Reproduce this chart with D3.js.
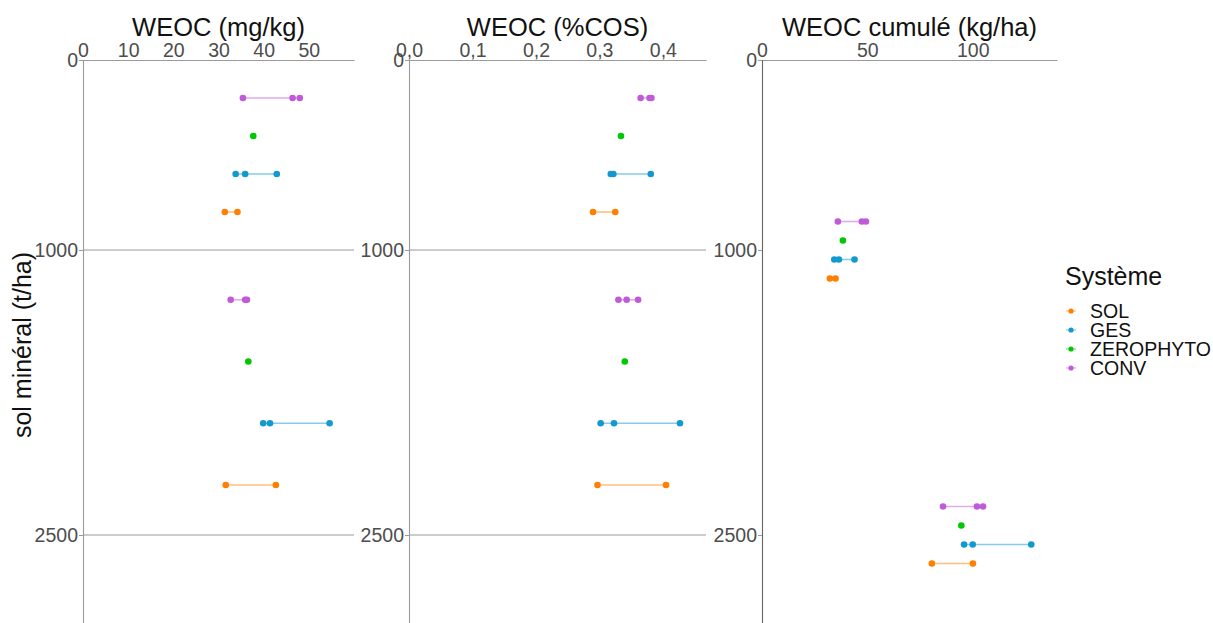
<!DOCTYPE html>
<html>
<head>
<meta charset="utf-8">
<script src="https://cdn.jsdelivr.net/npm/d3@7"></script>
<style>
  html, body { margin: 0; padding: 0; background: #fff; }
  svg { display: block; font-family: "Liberation Sans", Arial, sans-serif; }
</style>
</head>
<body>
<svg id="chart" width="1213" height="623"></svg>
<script>
// Systems (legend order) and colours
const systems = ["SOL", "GES", "ZEROPHYTO", "CONV"];
const colors = ["#ff7f00", "#1299cf", "#00c800", "#c05ad8"];

// Depth position (t/ha of mineral soil) of each system row, per layer
const depthLayer1 = [800, 600, 400, 200];         // SOL, GES, ZEROPHYTO, CONV
const depthLayer2 = [2237, 1912, 1587, 1262];
const depthCum1 = [1150, 1050, 950, 850];
const depthCum2 = [2650, 2550, 2450, 2350];

// WEOC (mg/kg), replicates per system
const weocMg1 = [[31.4, 34.2], [33.8, 35.9, 42.9], [37.7], [35.4, 46.4, 48.0]];
const weocMg2 = [[31.6, 42.7], [39.9, 41.4, 54.6], [36.6], [32.7, 35.9, 36.3]];

// WEOC (%COS)
const weocPct1 = [[0.290, 0.325], [0.318, 0.322, 0.381], [0.334], [0.365, 0.379, 0.382]];
const weocPct2 = [[0.297, 0.405], [0.302, 0.323, 0.427], [0.340], [0.330, 0.343, 0.361]];

// Cumulated WEOC (kg/ha)
const weocCum1 = [[32.2, 34.9], [34.3, 36.5, 43.9], [38.4], [36.0, 47.4, 49.3]];
const weocCum2 = [[80.6, 100.1], [95.9, 100.0, 127.8], [94.6], [85.9, 102.0, 104.9]];

// Axis ticks
const depthTicks = [0, 1000, 2500];
const ticksMg = [0, 10, 20, 30, 40, 50];
const ticksPct = [0, 0.1, 0.2, 0.3, 0.4];
const ticksCum = [0, 50, 100];

const svg = d3.select("#chart");
const axisGrey = "#9a9a9a";
const tickText = "#4d4d4d";
const tickFont = 19.5;

const y = d3.scaleLinear().domain([0, 3000]).range([60, 630]);

const panels = [
  { title: "WEOC (mg/kg)", x: d3.scaleLinear().domain([0, 60]).range([83, 354]),
    ticks: ticksMg, fmt: d => d3.format("d")(d), grid: true, yAxisColor: axisGrey,
    layers: [[depthLayer1, weocMg1], [depthLayer2, weocMg2]] },
  { title: "WEOC (%COS)", x: d3.scaleLinear().domain([0, 0.468]).range([409, 706]),
    ticks: ticksPct, fmt: d => d3.format(".1f")(d).replace(".", ","), grid: true, yAxisColor: axisGrey,
    layers: [[depthLayer1, weocPct1], [depthLayer2, weocPct2]] },
  { title: "WEOC cumulé (kg/ha)", x: d3.scaleLinear().domain([0, 140]).range([762, 1057]),
    ticks: ticksCum, fmt: d => d3.format("d")(d), grid: false, yAxisColor: "#666",
    layers: [[depthCum1, weocCum1], [depthCum2, weocCum2]] }
];

panels.forEach(p => {
  const g = svg.append("g");
  const [x0, x1] = p.x.range();

  // horizontal reference lines at depth breaks
  if (p.grid) {
    g.selectAll("line.grid").data(depthTicks.filter(d => d > 0)).join("line")
      .attr("x1", x0).attr("x2", x1)
      .attr("y1", d => y(d)).attr("y2", d => y(d))
      .attr("stroke", axisGrey).attr("stroke-width", 1);
  }

  // top x axis
  const xAxis = d3.axisTop(p.x).tickValues(p.ticks).tickFormat(p.fmt).tickSize(0).tickPadding(3);
  const gx = g.append("g").attr("transform", `translate(0,${y(0)})`).call(xAxis);
  gx.select(".domain").attr("stroke", axisGrey).attr("stroke-width", 1.1);
  gx.selectAll("text").attr("fill", tickText).attr("font-size", tickFont)
    .attr("font-family", "Liberation Sans, Arial, sans-serif");

  // left y axis (reversed depth)
  const yAxis = d3.axisLeft(y).tickValues(depthTicks).tickFormat(d3.format("d")).tickSize(4).tickPadding(1);
  const gy = g.append("g").attr("transform", `translate(${x0},0)`).call(yAxis);
  gy.select(".domain").attr("stroke", p.yAxisColor).attr("stroke-width", 1.1);
  gy.selectAll(".tick line").attr("stroke", axisGrey);
  gy.selectAll("text").attr("fill", tickText).attr("font-size", tickFont)
    .attr("font-family", "Liberation Sans, Arial, sans-serif");

  // panel title
  g.append("text").attr("x", (x0 + x1) / 2).attr("y", 36)
    .attr("text-anchor", "middle").attr("font-size", 25.5).attr("fill", "#111")
    .text(p.title);

  // ranges and points per system
  p.layers.forEach(([depths, vals]) => {
    systems.forEach((s, i) => {
      const v = vals[i];
      const cy = y(depths[i]);
      const ext = d3.extent(v);
      if (ext[1] > ext[0]) {
        g.append("line")
          .attr("x1", p.x(ext[0])).attr("x2", p.x(ext[1]))
          .attr("y1", cy).attr("y2", cy)
          .attr("stroke", colors[i]).attr("stroke-opacity", 0.5).attr("stroke-width", 1.6);
      }
      g.selectAll(null).data(v).join("circle")
        .attr("cx", d => p.x(d)).attr("cy", cy).attr("r", 3.3)
        .attr("fill", colors[i]);
    });
  });
});

// y axis title
svg.append("text")
  .attr("transform", `translate(31,345) rotate(-90)`)
  .attr("text-anchor", "middle").attr("font-size", 25).attr("fill", "#111")
  .text("sol minéral (t/ha)");

// legend
const lg = svg.append("g");
lg.append("text").attr("x", 1065).attr("y", 285).attr("font-size", 25).attr("fill", "#111")
  .text("Système");
const legendY = [311, 330, 349, 368];
systems.forEach((s, i) => {
  lg.append("line").attr("x1", 1066).attr("x2", 1076)
    .attr("y1", legendY[i]).attr("y2", legendY[i])
    .attr("stroke", colors[i]).attr("stroke-opacity", 0.5).attr("stroke-width", 1.2);
  lg.append("circle").attr("cx", 1071).attr("cy", legendY[i]).attr("r", 2.6).attr("fill", colors[i]);
  lg.append("text").attr("x", 1090).attr("y", legendY[i] + 7)
    .attr("font-size", 19.5).attr("fill", "#111").text(s);
});
</script>
</body>
</html>
